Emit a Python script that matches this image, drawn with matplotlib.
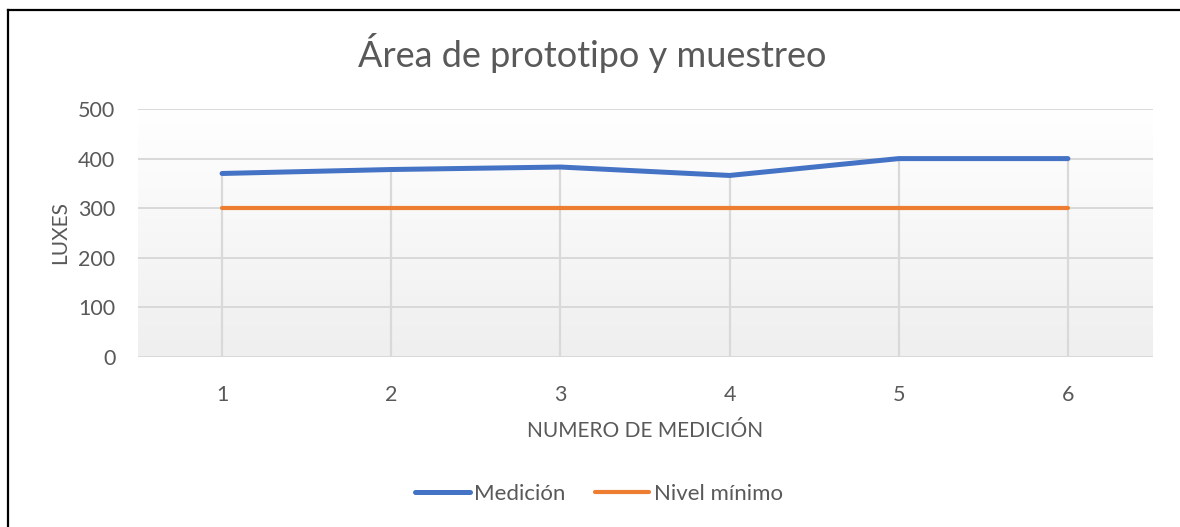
import numpy as np
import matplotlib.pyplot as plt
from matplotlib.lines import Line2D
from matplotlib.colors import LinearSegmentedColormap

# datos
mediciones = [1, 2, 3, 4, 5, 6]
luxes_medicion = [370, 378, 383, 366, 400, 400]
nivel_minimo = [300, 300, 300, 300, 300, 300]

plt.rcParams['font.family'] = ['Lato', 'DejaVu Sans']

W, H = 1180, 527
fig = plt.figure(figsize=(W / 100, H / 100), dpi=100)
ax = fig.add_axes([137.5 / W, (H - 357) / H, 1015 / W, 248 / H])

ax.set_xlim(0.5, 6.5)
ax.set_ylim(0, 500)

# fondo degradado del área de trazado
fondo = LinearSegmentedColormap.from_list('fondo', ['#efefef', '#ffffff'])
grad = np.linspace(0, 1, 256).reshape(-1, 1)
ax.imshow(grad, extent=(0.5, 6.5, 0, 500), aspect='auto', cmap=fondo,
          vmin=0, vmax=1, origin='lower', zorder=0)

# líneas de cuadrícula horizontales
for y in [0, 100, 200, 300, 400, 500]:
    ax.axhline(y, color='#d9d9d9', lw=1.4, zorder=1)

# líneas de proyección
tope = np.maximum(luxes_medicion, nivel_minimo)
ax.vlines(mediciones, 0, tope, color='#d9d9d9', lw=1.6, zorder=1)

ax.plot(mediciones, luxes_medicion, color='#4472C4', lw=3.6,
        solid_capstyle='round', label='Medición', zorder=3)
ax.plot(mediciones, nivel_minimo, color='#ED7D31', lw=3.0,
        solid_capstyle='round', label='Nivel mínimo', zorder=3)

for s in ax.spines.values():
    s.set_visible(False)
ax.set_xticks(mediciones)
ax.set_yticks([0, 100, 200, 300, 400, 500])
ax.tick_params(length=0, labelsize=15.5, labelcolor='#595959')
ax.tick_params(axis='x', pad=20)
ax.tick_params(axis='y', pad=16)

ax.set_xlabel('NUMERO DE MEDICIÓN', fontsize=15, color='#595959', labelpad=12)
ax.set_ylabel('LUXES', fontsize=15, color='#595959', labelpad=6)

fig.text(592 / W, 1 - 53 / H, 'Área de prototipo y muestreo', ha='center',
         va='center', fontsize=26, color='#595959')

leg = fig.legend(loc='center', bbox_to_anchor=(599 / W, 1 - 494 / H), ncol=2,
                 frameon=False, fontsize=16, handlelength=2.45,
                 handletextpad=0.2, columnspacing=1.3)
for t in leg.get_texts():
    t.set_color('#595959')

# marco del gráfico (recortado a derecha y abajo)
fig.add_artist(Line2D([8 / W, 8 / W], [0, 1 - 10 / H], transform=fig.transFigure,
                      color='black', lw=1.6))
fig.add_artist(Line2D([8 / W, 1], [1 - 10 / H, 1 - 10 / H], transform=fig.transFigure,
                      color='black', lw=1.6))

fig.savefig('out.png', dpi=100)
